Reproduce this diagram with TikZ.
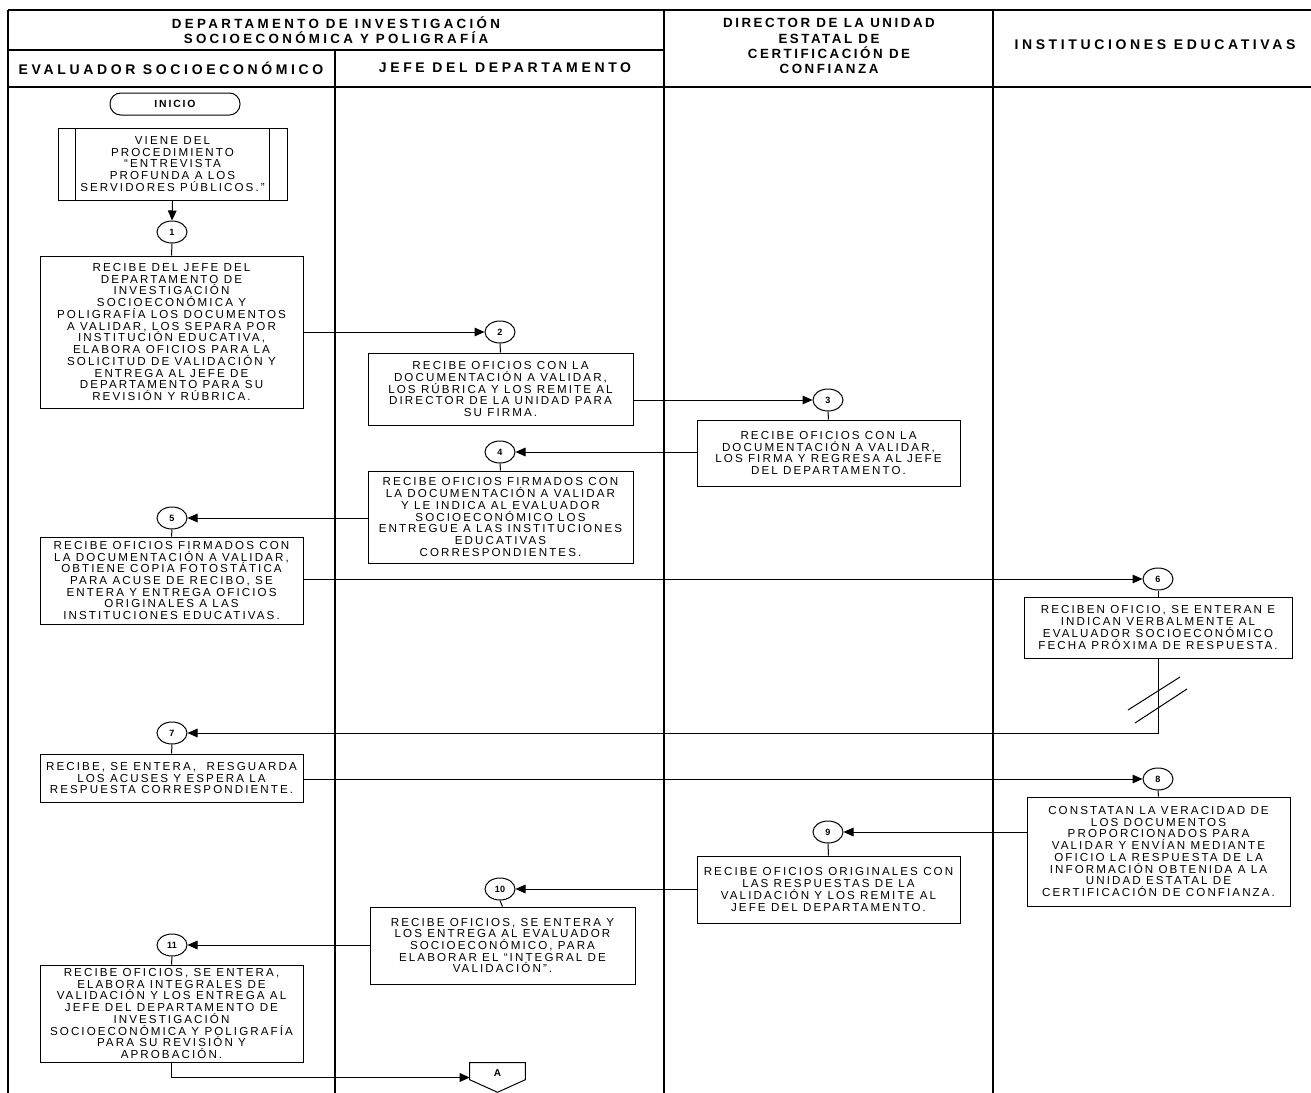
\documentclass[tikz,border=0pt]{standalone}
\usepackage{fontspec}
\setmainfont{Liberation Sans}
\newfontfamily\boxfont[LetterSpace=18]{Liberation Sans}
\newfontfamily\headfont[LetterSpace=25]{Liberation Sans}
\newfontfamily\dirfont[LetterSpace=19]{Liberation Sans}
\newfontfamily\lanefont[LetterSpace=26]{Liberation Sans}
\usetikzlibrary{arrows.meta,shapes.geometric,calc}

\tikzset{
  wh/.style 2 args={minimum width=#1*0.75pt, minimum height=#2*0.75pt},
  proc/.style={draw, line width=0.75pt, inner sep=0pt, align=center,
    font=\boxfont\fontsize{8.7}{8.8}\selectfont},
  conn/.style={draw, ellipse, line width=0.75pt, inner sep=0pt,
    minimum width=22.5pt, minimum height=16.5pt,
    font=\bfseries\fontsize{6.8}{7}\selectfont},
  arr/.style={line width=0.75pt, -{Triangle[length=7.5pt,width=6.5pt]}},
  flow/.style={line width=0.75pt},
  grid/.style={line width=0.8pt},
  head/.style={align=center, inner sep=0pt,
    font=\headfont\bfseries\fontsize{10}{11.3}\selectfont},
  dirhead/.style={align=center, inner sep=0pt,
    font=\dirfont\bfseries\fontsize{10}{11.3}\selectfont},
  lane/.style={align=center, inner sep=0pt,
    font=\lanefont\bfseries\fontsize{10.5}{11.3}\selectfont},
}

\begin{document}
\begin{tikzpicture}[x=0.75pt,y=-0.75pt]
\useasboundingbox (0,0) rectangle (1311,1093);

% swimlane grid
\draw[grid] (8,10) -- (1311,10);
\draw[grid] (8,50) -- (664,50);
\draw[grid] (8,87) -- (1311,87);
\draw[grid] (8,10) -- (8,1093);
\draw[grid] (335,50) -- (335,1093);
\draw[grid] (664,10) -- (664,1093);
\draw[grid] (993,10) -- (993,1093);

% lane titles
\node[head] (hdept) at (336,30) {DEPARTAMENTO DE INVESTIGACIÓN\\SOCIOECONÓMICA Y POLIGRAFÍA};
\node[lane] (heval) at (171,68) {EVALUADOR SOCIOECONÓMICO};
\node[lane] (hjefe) at (505,68) {JEFE DEL DEPARTAMENTO};
\node[dirhead] (hdir) at (829,46) {DIRECTOR DE LA UNIDAD\\ESTATAL DE\\CERTIFICACIÓN DE\\CONFIANZA};
\node[lane] (hinst) at (1155,45) {INSTITUCIONES EDUCATIVAS};

% start and predefined process
\node[draw, line width=0.75pt, rounded corners=8pt, wh={130}{22}, inner sep=0pt,
  font=\boxfont\bfseries\fontsize{7.8}{8}\selectfont] (inicio) at (175,104) {INICIO};
\node[proc, wh={229}{72}] (pre) at (172.5,164)
  {VIENE DEL\\PROCEDIMIENTO\\“ENTREVISTA\\PROFUNDA A LOS\\SERVIDORES PÚBLICOS.”};
\draw[flow] ($(pre.north west)+(18,0)$) -- ($(pre.south west)+(18,0)$);
\draw[flow] ($(pre.north east)+(-18,0)$) -- ($(pre.south east)+(-18,0)$);

% step connectors
\node[conn] (c1) at (172,232) {1};
\node[conn] (c2) at (500,332) {2};
\node[conn] (c3) at (828,400) {3};
\node[conn] (c4) at (500,452) {4};
\node[conn] (c5) at (172,518) {5};
\node[conn] (c6) at (1158,579) {6};
\node[conn] (c7) at (172,733) {7};
\node[conn] (c8) at (1158,779) {8};
\node[conn] (c9) at (828,832) {9};
\node[conn] (c10) at (500,889) {10};
\node[conn] (c11) at (172,945) {11};

% activity boxes
\node[proc, wh={263}{152}] (b1) at (171.5,332)
  {RECIBE DEL JEFE DEL\\DEPARTAMENTO DE\\INVESTIGACIÓN\\SOCIOECONÓMICA Y\\POLIGRAFÍA LOS DOCUMENTOS\\A VALIDAR, LOS SEPARA POR\\INSTITUCIÓN EDUCATIVA,\\ELABORA OFICIOS PARA LA\\SOLICITUD DE VALIDACIÓN Y\\ENTREGA AL JEFE DE\\DEPARTAMENTO PARA SU\\REVISIÓN Y RÚBRICA.};
\node[proc, wh={265}{72}] (b2) at (500.5,389)
  {RECIBE OFICIOS CON LA\\DOCUMENTACIÓN A VALIDAR,\\LOS RÚBRICA Y LOS REMITE AL\\DIRECTOR DE LA UNIDAD PARA\\SU FIRMA.};
\node[proc, wh={263}{66}] (b3) at (828.5,453)
  {RECIBE OFICIOS CON LA\\DOCUMENTACIÓN A VALIDAR,\\LOS FIRMA Y REGRESA AL JEFE\\DEL DEPARTAMENTO.};
\node[proc, wh={265}{92}] (b4) at (500.5,517)
  {RECIBE OFICIOS FIRMADOS CON\\LA DOCUMENTACIÓN A VALIDAR\\Y LE INDICA AL EVALUADOR\\SOCIOECONÓMICO LOS\\ENTREGUE A LAS INSTITUCIONES\\EDUCATIVAS\\CORRESPONDIENTES.};
\node[proc, wh={263}{87}] (b5) at (171.5,580.5)
  {RECIBE OFICIOS FIRMADOS CON\\LA DOCUMENTACIÓN A VALIDAR,\\OBTIENE COPIA FOTOSTÁTICA\\PARA ACUSE DE RECIBO, SE\\ENTERA Y ENTREGA OFICIOS\\ORIGINALES A LAS\\INSTITUCIONES EDUCATIVAS.};
\node[proc, wh={268}{61}] (b6) at (1158,627.5)
  {RECIBEN OFICIO, SE ENTERAN E\\INDICAN VERBALMENTE AL\\EVALUADOR SOCIOECONÓMICO\\FECHA PRÓXIMA DE RESPUESTA.};
\node[proc, wh={263}{48}] (b7) at (171.5,778)
  {RECIBE, SE ENTERA,\ \ RESGUARDA\\LOS ACUSES Y ESPERA LA\\RESPUESTA CORRESPONDIENTE.};
\node[proc, wh={263}{109}] (b8) at (1158.5,851.5)
  {CONSTATAN LA VERACIDAD DE\\LOS DOCUMENTOS\\PROPORCIONADOS PARA\\VALIDAR Y ENVÍAN MEDIANTE\\OFICIO LA RESPUESTA DE LA\\INFORMACIÓN OBTENIDA A LA\\UNIDAD ESTATAL DE\\CERTIFICACIÓN DE CONFIANZA.};
\node[proc, wh={263}{67}] (b9) at (828.5,889.5)
  {RECIBE OFICIOS ORIGINALES CON\\LAS RESPUESTAS DE LA\\VALIDACIÓN Y LOS REMITE AL\\JEFE DEL DEPARTAMENTO.};
\node[proc, wh={265}{77}] (b10) at (502.5,945.5)
  {RECIBE OFICIOS, SE ENTERA Y\\LOS ENTREGA AL EVALUADOR\\SOCIOECONÓMICO, PARA\\ELABORAR EL “INTEGRAL DE\\VALIDACIÓN”.};
\node[proc, wh={263}{97}] (b11) at (171.5,1013.5)
  {RECIBE OFICIOS, SE ENTERA,\\ELABORA INTEGRALES DE\\VALIDACIÓN Y LOS ENTREGA AL\\JEFE DEL DEPARTAMENTO DE\\INVESTIGACIÓN\\SOCIOECONÓMICA Y POLIGRAFÍA\\PARA SU REVISIÓN Y\\APROBACIÓN.};

% off-page connector
\node[wh={55}{29}, inner sep=0pt] (A) at (497.5,1077.5) {};
\draw[flow] (A.north west) -- (A.north east) -- ($(A.north east)+(0,17)$)
  -- (A.south) -- ($(A.north west)+(0,17)$) -- cycle;
\node[font=\bfseries\fontsize{7.5}{8}\selectfont, inner sep=0pt] (Alabel) at ($(A)+(0,-4)$) {A};

% flow
\draw[arr] (pre.south) -- (c1.north);
\draw[flow] (c1.south) -- (b1.north);
\draw[arr] (b1.east |- c2) -- (c2.west);
\draw[flow] (c2.south) -- (b2.north);
\draw[arr] (b2.east |- c3) -- (c3.west);
\draw[flow] (c3.south) -- (b3.north);
\draw[arr] (b3.west |- c4) -- (c4.east);
\draw[flow] (c4.south) -- (b4.north);
\draw[arr] (b4.west |- c5) -- (c5.east);
\draw[flow] (c5.south) -- (b5.north);
\draw[arr] (b5.east |- c6) -- (c6.west);
\draw[flow] (c6.south) -- (b6.north);
\draw[arr] (b6.south) |- (c7.east);
\draw[flow] (c7.south) -- (b7.north);
\draw[arr] (b7.east |- c8) -- (c8.west);
\draw[flow] (c8.south) -- (b8.north);
\draw[arr] (b8.west |- c9) -- (c9.east);
\draw[flow] (c9.south) -- (b9.north);
\draw[arr] (b9.west |- c10) -- (c10.east);
\draw[flow] (c10.south) -- (b10.north);
\draw[arr] (b10.west |- c11) -- (c11.east);
\draw[flow] (c11.south) -- (b11.north);
\draw[arr] (b11.south) |- (A.west);

% waiting-time break on the return line
\draw[flow] (1180,677) -- (1128,710);
\draw[flow] (1187,689) -- (1135,723);
\end{tikzpicture}
\end{document}
